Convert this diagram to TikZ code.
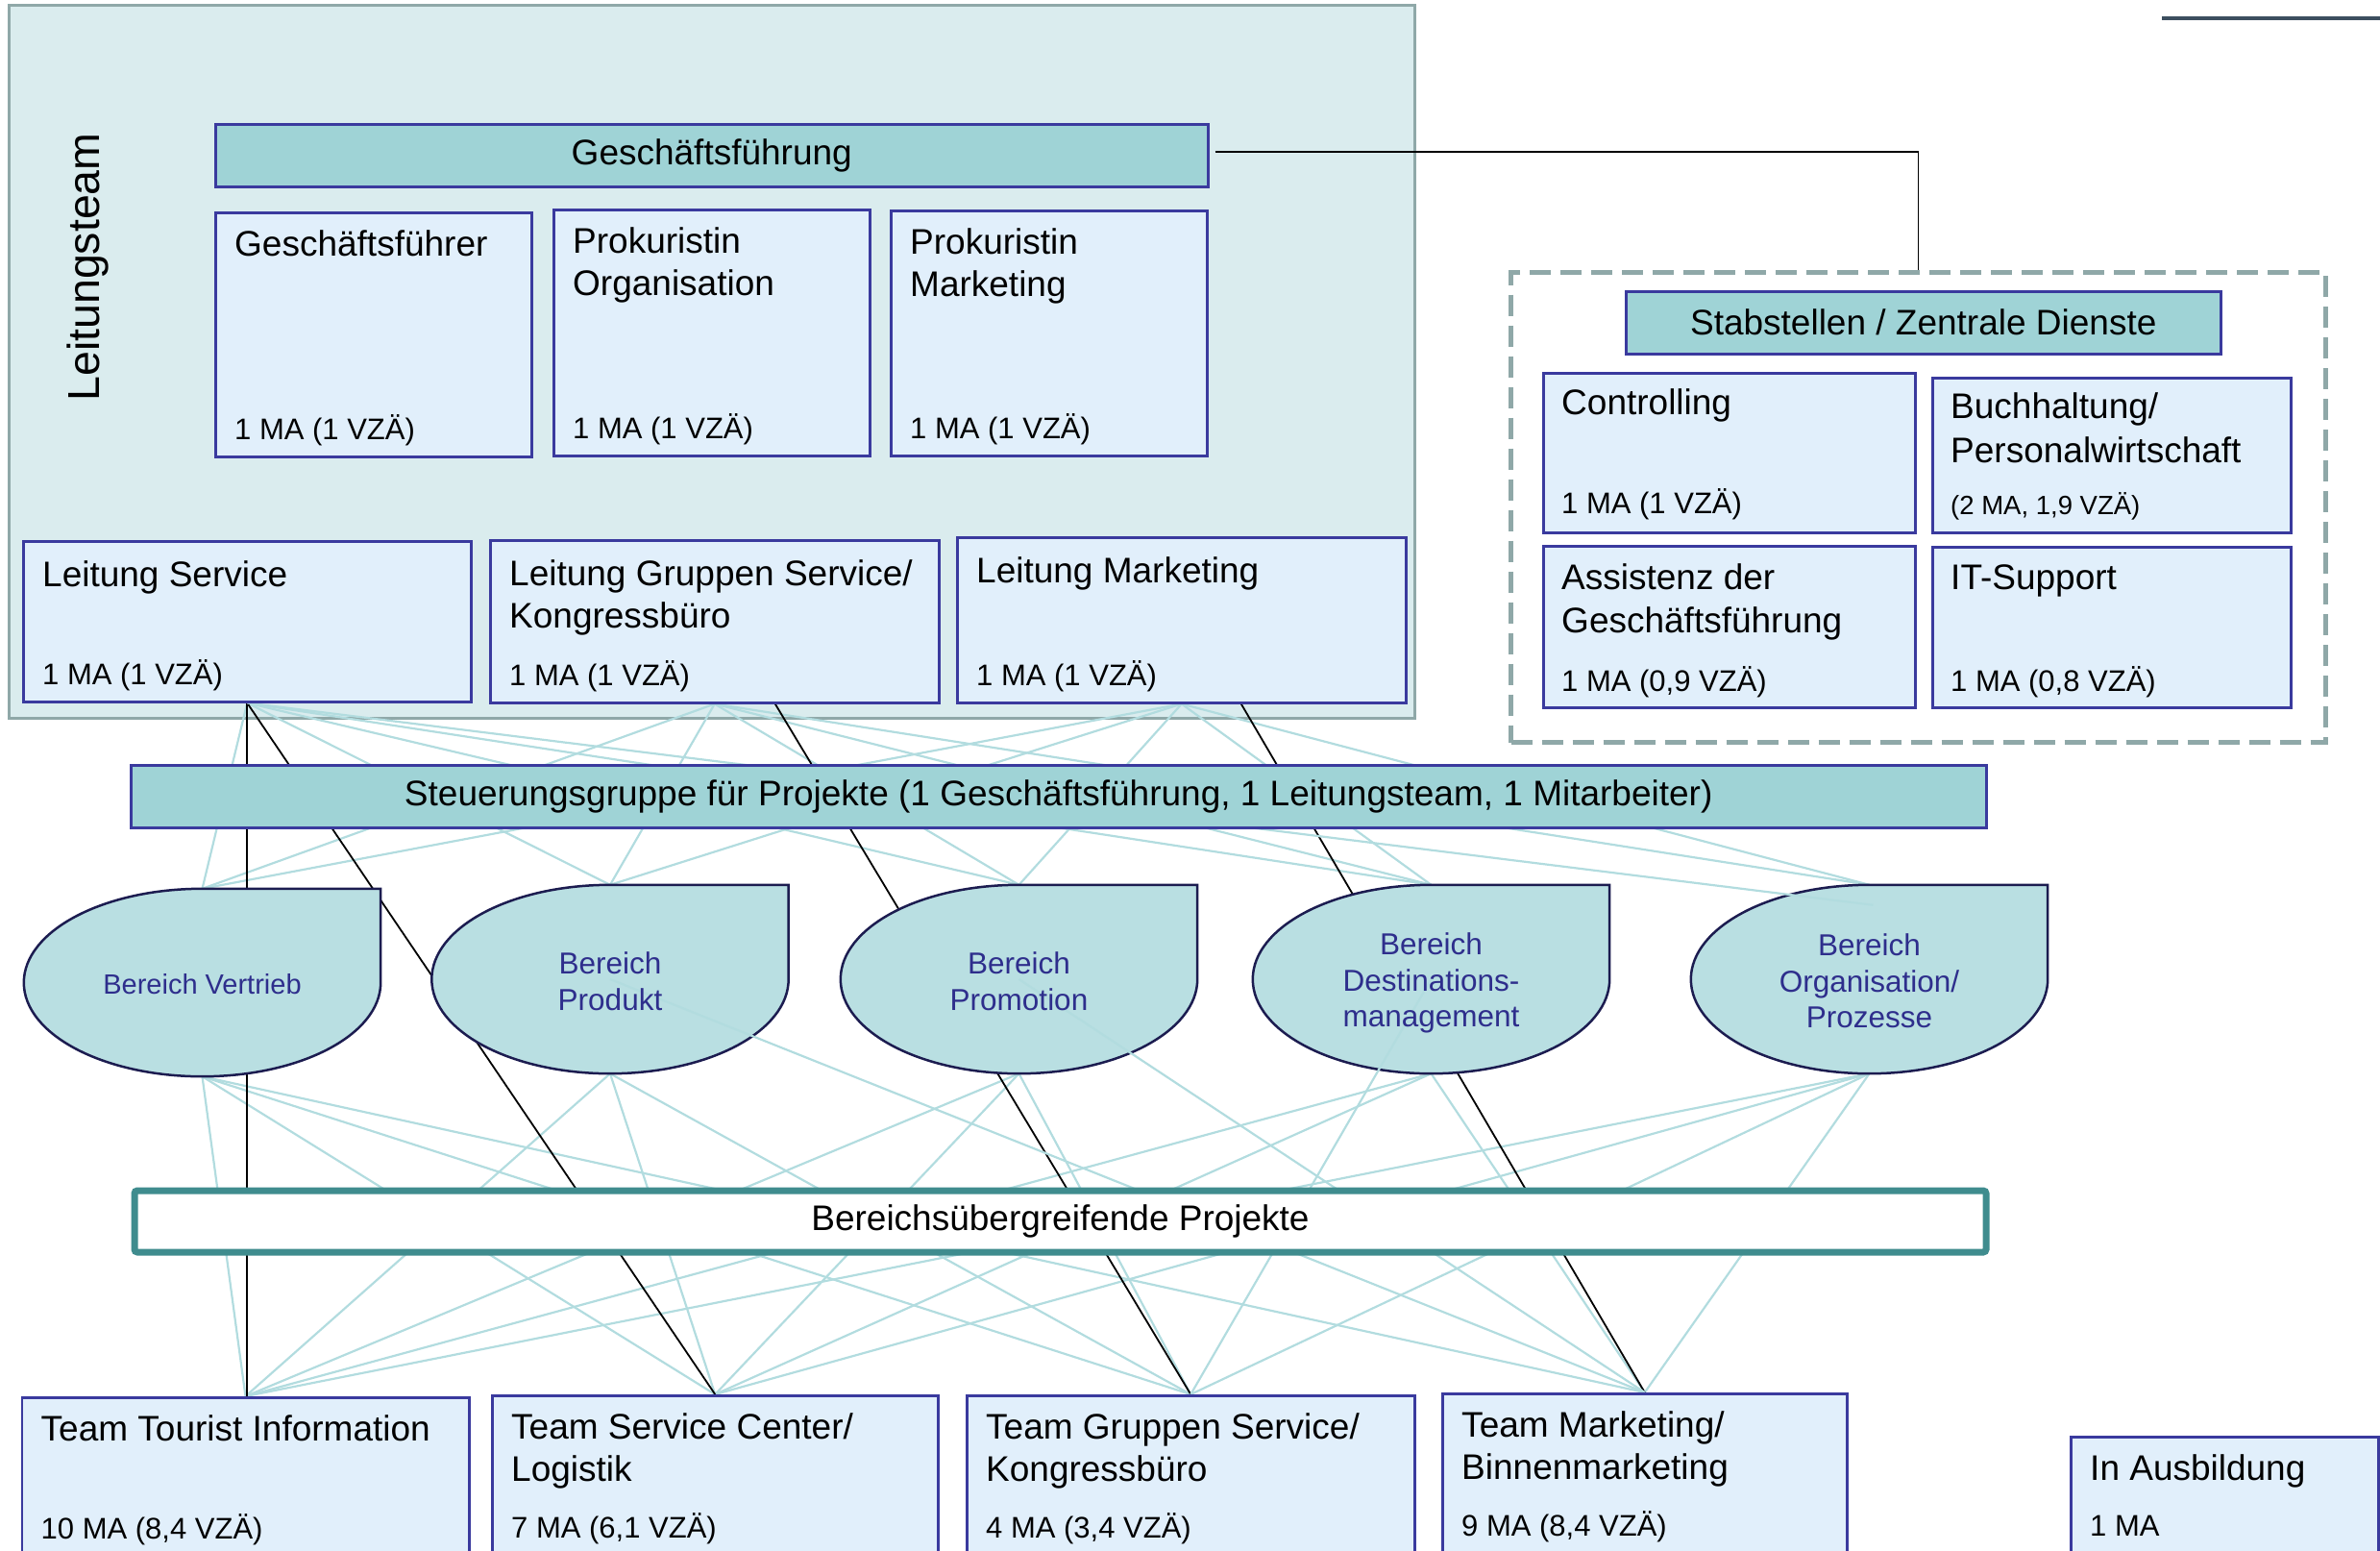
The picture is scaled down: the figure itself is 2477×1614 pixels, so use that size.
\documentclass[tikz,border=0pt]{standalone}
\usepackage{fontspec}
\setmainfont{Liberation Sans}
\usetikzlibrary{calc}

\definecolor{teamfill}{HTML}{DAECEE}
\definecolor{teamedge}{HTML}{8FA8A8}
\definecolor{boxfill}{HTML}{E1EFFB}
\definecolor{boxedge}{HTML}{3A3A9E}
\definecolor{barfill}{HTML}{9FD3D6}
\definecolor{areafill}{HTML}{B9DFE2}
\definecolor{areaedge}{HTML}{1C1C50}
\definecolor{areatext}{HTML}{2E2E8C}
\definecolor{meshline}{HTML}{B2DCDF}
\definecolor{projedge}{HTML}{3F8C8E}
\definecolor{slate}{HTML}{3D4F5F}

\newcommand\fsTitle{\fontsize{37}{44.5}\selectfont}
\newcommand\fsCount{\fontsize{31}{37}\selectfont}
\newcommand\fsSmall{\fontsize{27.5}{33}\selectfont}
\newcommand\fsArea{\fontsize{31.5}{37.5}\selectfont}
\newcommand\fsAreaS{\fontsize{29}{35}\selectfont}
\newcommand\fsBig{\fontsize{46.5}{50}\selectfont}

\pgfdeclarelayer{back}
\pgfdeclarelayer{lines}
\pgfdeclarelayer{shapes}
\pgfdeclarelayer{over}
\pgfsetlayers{back,lines,shapes,over,main}

\tikzset{
  orgbox/.style={draw=boxedge, fill=boxfill, line width=2.5pt, inner sep=0pt, anchor=north west},
  bar/.style={draw=boxedge, fill=barfill, line width=2.5pt, inner sep=0pt, anchor=north west, font=\fsTitle},
  title/.style={anchor=base west, inner sep=0pt, font=\fsTitle},
  count/.style={anchor=base west, inner sep=0pt, font=\fsCount},
  bereich/.style={inner sep=0pt, minimum width=371, minimum height=196},
  areatxt/.style={inner sep=0pt, align=center, text=areatext, font=\fsArea},
  areashape/.style={fill=areafill, draw=areaedge, line width=2.5pt},
  mesh/.style={draw=meshline, line width=2.2pt},
  chain/.style={draw=black, line width=1.8pt},
}

\begin{document}
\begin{tikzpicture}[x=1pt, y=-1pt]
\useasboundingbox (0,0) rectangle (2477,1614);
\clip (0,0) rectangle (2477,1614);

% ---------- Leitungsteam ----------
\begin{pgfonlayer}{back}
  \path[fill=teamfill, draw=teamedge, line width=3pt] (9.5,5) rectangle (1472,747);
\end{pgfonlayer}
\node[rotate=90, font=\fsBig, inner sep=0pt] (ltlabel) at (91,278) {Leitungsteam};

\node[bar, minimum width=1033, minimum height=65] (gfbar) at (223,128) {Geschäftsführung};

\node[orgbox, minimum width=329, minimum height=254] (gf1) at (223,220) {};
\node[orgbox, minimum width=329, minimum height=256] (gf2) at (575,217) {};
\node[orgbox, minimum width=329, minimum height=255] (gf3) at (926,218) {};

\node[orgbox, minimum width=466, minimum height=167] (ls) at (23,562) {};
\node[orgbox, minimum width=467, minimum height=169] (lg) at (509,561) {};
\node[orgbox, minimum width=467, minimum height=172] (lm) at (995,558) {};

\node[title] (gf1a) at ($(gf1.north west)+(21,46)$) {Geschäftsführer};
\node[count] (gf1c) at ($(gf1.south west)+(21,-19)$) {1 MA (1 VZÄ)};
\node[title] (gf2a) at ($(gf2.north west)+(21,46)$) {Prokuristin};
\node[title] (gf2b) at ($(gf2.north west)+(21,90.5)$) {Organisation};
\node[count] (gf2c) at ($(gf2.south west)+(21,-19)$) {1 MA (1 VZÄ)};
\node[title] (gf3a) at ($(gf3.north west)+(21,46)$) {Prokuristin};
\node[title] (gf3b) at ($(gf3.north west)+(21,90.5)$) {Marketing};
\node[count] (gf3c) at ($(gf3.south west)+(21,-19)$) {1 MA (1 VZÄ)};

\node[title] (lsa) at ($(ls.north west)+(21,48)$) {Leitung Service};
\node[count] (lsc) at ($(ls.south west)+(21,-19)$) {1 MA (1 VZÄ)};
\node[title] (lga) at ($(lg.north west)+(21,48)$) {Leitung Gruppen Service/};
\node[title] (lgb) at ($(lg.north west)+(21,92.5)$) {Kongressbüro};
\node[count] (lgc) at ($(lg.south west)+(21,-19)$) {1 MA (1 VZÄ)};
\node[title] (lma) at ($(lm.north west)+(21,48)$) {Leitung Marketing};
\node[count] (lmc) at ($(lm.south west)+(21,-19)$) {1 MA (1 VZÄ)};

% ---------- Stabstellen ----------
\node[draw=teamedge, line width=5pt, dash pattern=on 22pt off 10pt, inner sep=0pt,
      anchor=north west, minimum width=848, minimum height=489] (stabgroup) at (1570,281) {};
\node[bar, minimum width=619, minimum height=65] (stabbar) at (1691,302) {Stabstellen / Zentrale Dienste};

\node[orgbox, minimum width=387, minimum height=166] (ctrl) at (1605,387) {};
\node[orgbox, minimum width=373, minimum height=161] (buch) at (2010,392) {};
\node[orgbox, minimum width=387, minimum height=168] (assi) at (1605,567) {};
\node[orgbox, minimum width=373, minimum height=167] (itsu) at (2010,568) {};

\node[title] (ctrla) at ($(ctrl.north west)+(20,44)$) {Controlling};
\node[count] (ctrlc) at ($(ctrl.south west)+(20,-21)$) {1 MA (1 VZÄ)};
\node[title] (bucha) at ($(buch.north west)+(20,43)$) {Buchhaltung/};
\node[title] (buchb) at ($(buch.north west)+(20,89)$) {Personalwirtschaft};
\node[anchor=base west, inner sep=0pt, font=\fsSmall] (buchc) at ($(buch.south west)+(20,-20)$) {(2 MA, 1,9 VZÄ)};
\node[title] (assia) at ($(assi.north west)+(20,46)$) {Assistenz der};
\node[title] (assib) at ($(assi.north west)+(20,91)$) {Geschäftsführung};
\node[count] (assic) at ($(assi.south west)+(20,-18)$) {1 MA (0,9 VZÄ)};
\node[title] (itsua) at ($(itsu.north west)+(20,45)$) {IT-Support};
\node[count] (itsuc) at ($(itsu.south west)+(20,-18)$) {1 MA (0,8 VZÄ)};

\coordinate (gfOut) at ($(gfbar.east)+(6,-4)$);
\draw[chain] (gfOut) -| (stabgroup.north);

\coordinate (ruleA) at (2250,19);
\coordinate (ruleB) at (2477,19);
\draw[slate, line width=3.5pt] (ruleA) -- (ruleB);

% ---------- Steuerungsgruppe / Projekte ----------
\node[bar, minimum width=1931, minimum height=65] (steuer) at (135,795)
  {Steuerungsgruppe für Projekte (1 Geschäftsführung, 1 Leitungsteam, 1 Mitarbeiter)};
\node[draw=projedge, fill=white, line width=7pt, rounded corners=3pt, inner sep=0pt,
      anchor=north west, minimum width=1927, minimum height=64, font=\fsTitle] (proj)
      at (136.5,1235.5) {Bereichsübergreifende Projekte};

% ---------- Bereiche ----------
\node[bereich, minimum height=195] (vert) at (210.5,1022.5) {};
\node[bereich] (prod) at (635,1019) {};
\node[bereich] (prom) at (1060.5,1019) {};
\node[bereich] (dest) at (1489.5,1019) {};
\node[bereich] (orga) at (1945.5,1019) {};

\node[areatxt, font=\fsAreaS] (verttxt) at ($(vert.center)+(0,2)$) {Bereich Vertrieb};
\node[areatxt] (prodtxt) at ($(prod.center)+(0,2)$) {Bereich\\Produkt};
\node[areatxt] (promtxt) at ($(prom.center)+(0,2)$) {Bereich\\Promotion};
\node[areatxt] (desttxt) at ($(dest.center)+(0,4)$) {Bereich\\Destinations-\\management};
\node[areatxt] (orgatxt) at ($(orga.center)+(0,2)$) {Bereich\\Organisation/\\Prozesse};

\begin{pgfonlayer}{shapes}
  \foreach \b in {vert,prod,prom,dest,orga}{
    \path[areashape] let \p1=($(\b.north east)-(\b.center)$) in
      (\b.north) -- (\b.north east) -- (\b.east)
      arc[start angle=0, end angle=-270, x radius=\x1, y radius=\y1] -- cycle;
  }
\end{pgfonlayer}

% ---------- Teams ----------
\node[orgbox, minimum width=465.5, minimum height=250] (tti) at (21.5,1453) {};
\node[orgbox, minimum width=464, minimum height=250] (tsc) at (511,1451) {};
\node[orgbox, minimum width=466, minimum height=250] (tgs) at (1005,1451) {};
\node[orgbox, minimum width=421, minimum height=250] (tm) at (1500,1449) {};
\node[orgbox, minimum width=320, minimum height=250] (ausb) at (2154,1494) {};

\node[title] (ttia) at ($(tti.north west)+(21,46)$) {Team Tourist Information};
\node[count] (ttic) at ($(tti.north west)+(21,148)$) {10 MA (8,4 VZÄ)};
\node[title] (tsca) at ($(tsc.north west)+(21,46)$) {Team Service Center/};
\node[title] (tscb) at ($(tsc.north west)+(21,90)$) {Logistik};
\node[count] (tscc) at ($(tsc.north west)+(21,149)$) {7 MA (6,1 VZÄ)};
\node[title] (tgsa) at ($(tgs.north west)+(21,46)$) {Team Gruppen Service/};
\node[title] (tgsb) at ($(tgs.north west)+(21,90)$) {Kongressbüro};
\node[count] (tgsc) at ($(tgs.north west)+(21,149)$) {4 MA (3,4 VZÄ)};
\node[title] (tma) at ($(tm.north west)+(21,46)$) {Team Marketing/};
\node[title] (tmb) at ($(tm.north west)+(21,90)$) {Binnenmarketing};
\node[count] (tmc) at ($(tm.north west)+(21,149)$) {9 MA (8,4 VZÄ)};
\node[title] (ausba) at ($(ausb.north west)+(21,46)$) {In Ausbildung};
\node[count] (ausbc) at ($(ausb.north west)+(21,104)$) {1 MA};

% ---------- Verbindungen ----------
\coordinate (lgTap) at ($(lg.south)+(63,0)$);
\coordinate (lmTap) at ($(lm.south)+(62,0)$);
\coordinate (orgaIn) at ($(orga.north)+(4,21)$);

\begin{pgfonlayer}{lines}
  \foreach \l/\b in {ls/vert,ls/prod,ls/prom,ls/dest,
                     lg/vert,lg/prod,lg/prom,lg/dest,lg/orga,
                     lm/vert,lm/prod,lm/prom,lm/dest,lm/orga}
    \draw[mesh] (\l.south) -- (\b.north);
  \foreach \b/\t in {vert/tti,vert/tsc,vert/tgs,vert/tm,
                     prod/tti,prod/tsc,prod/tgs,
                     prom/tti,prom/tsc,prom/tgs,
                     dest/tti,dest/tsc,dest/tm,
                     orga/tti,orga/tsc,orga/tgs,orga/tm}
    \draw[mesh] (\b.south) -- (\t.north);
  \draw[chain] (ls.south) -- (ls.south |- tti.north);
  \draw[chain] (ls.south) -- (tsc.north);
  \draw[chain] (lgTap) -- (tgs.north);
  \draw[chain] (lmTap) -- (tm.north);
\end{pgfonlayer}

\begin{pgfonlayer}{over}
  \draw[mesh] (ls.south) -- (orgaIn);
  \draw[mesh] (prod.center) -- (tm.north);
  \draw[mesh] (prom.center) -- (tm.north);
  \draw[mesh] (dest.center) -- (tgs.north);
\end{pgfonlayer}

\end{tikzpicture}
\end{document}
